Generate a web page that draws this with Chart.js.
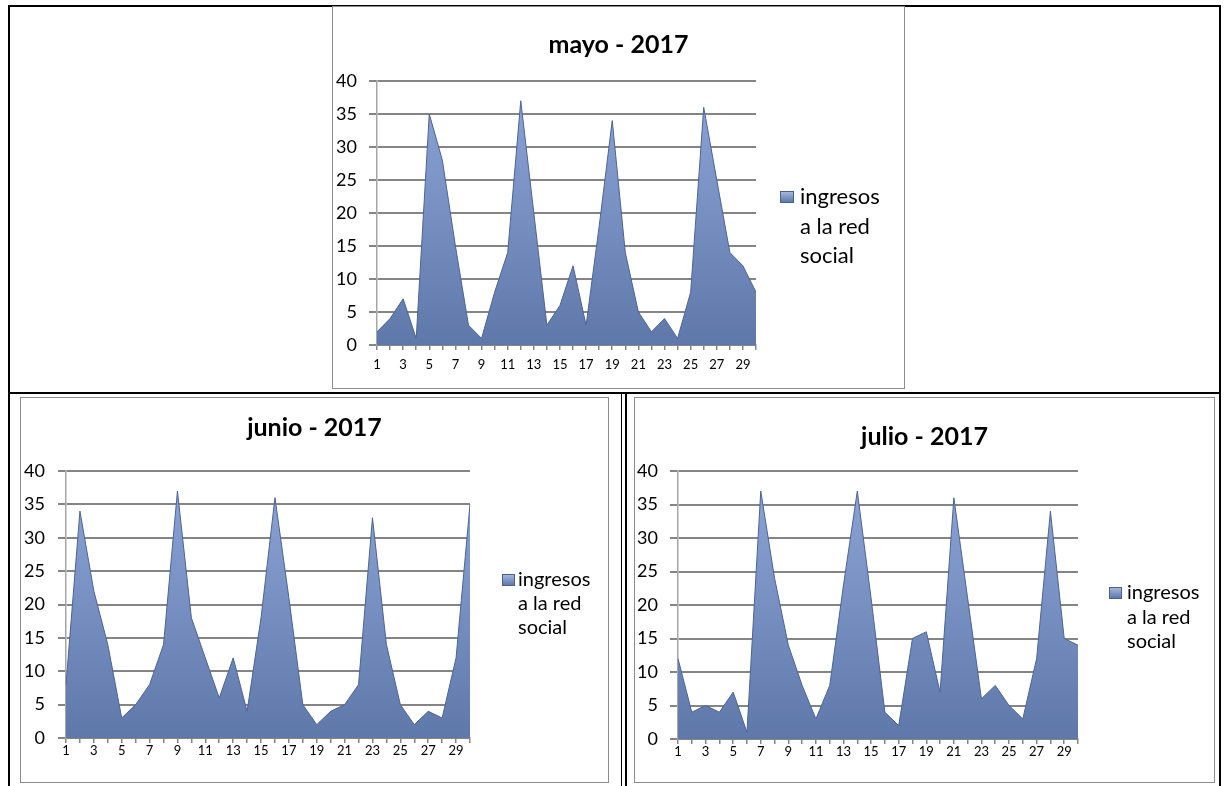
<!DOCTYPE html>
<html>
<head>
<meta charset="utf-8">
<script src="https://cdn.jsdelivr.net/npm/chart.js@4.4.1/dist/chart.umd.min.js"></script>
<style>
  body { margin: 0; background: #fff; width: 1225px; height: 786px; position: relative; overflow: hidden; font-family: Lato, sans-serif; }
  .rule { position: absolute; background: #000; }
  .frame { position: absolute; border: 1px solid #8c8c8c; background: #fff; }
  .frame canvas { display: block; }
</style>
</head>
<body>
<!-- table lines -->
<div class="rule" style="left:8px;top:5px;width:1213px;height:2px"></div>
<div class="rule" style="left:8px;top:5px;width:2px;height:781px"></div>
<div class="rule" style="left:1219px;top:5px;width:2px;height:781px"></div>
<div class="rule" style="left:8px;top:392px;width:1213px;height:2px"></div>
<div class="rule" style="left:621px;top:392px;width:1px;height:394px"></div>
<div class="rule" style="left:625px;top:392px;width:2px;height:394px"></div>

<div class="frame" style="left:332px;top:6px;width:571px;height:381px"><canvas id="mayo" width="571" height="381"></canvas></div>
<div class="frame" style="left:20px;top:397px;width:587px;height:384px"><canvas id="junio" width="587" height="384"></canvas></div>
<div class="frame" style="left:634px;top:397px;width:579px;height:384px"><canvas id="julio" width="579" height="384"></canvas></div>

<script>
const days = ["1", "2", "3", "4", "5", "6", "7", "8", "9", "10", "11", "12", "13", "14", "15",
  "16", "17", "18", "19", "20", "21", "22", "23", "24", "25", "26", "27", "28", "29", "30"];
const shownDays = ["1", "3", "5", "7", "9", "11", "13", "15", "17", "19", "21", "23", "25", "27", "29"];
const yTicks = [0, 5, 10, 15, 20, 25, 30, 35, 40];

const mayoValues = [2, 4, 7, 1, 35, 28, 15, 3, 1, 8, 14, 37, 20, 3, 6, 12, 3, 18, 34, 14, 5, 2, 4, 1, 8, 36, 25, 14, 12, 8];
const junioValues = [8, 34, 22, 14, 3, 5, 8, 14, 37, 18, 12, 6, 12, 4, 18, 36, 21, 5, 2, 4, 5, 8, 33, 14, 5, 2, 4, 3, 12, 35];
const julioValues = [12, 4, 5, 4, 7, 1, 37, 24, 14, 8, 3, 8, 23, 37, 21, 4, 2, 15, 16, 7, 36, 21, 6, 8, 5, 3, 12, 34, 15, 14];

const seriesName = "ingresos a la red social";
const legendLines = ["ingresos", "a la red", "social"];

const gridGray = "#858585";

function areaFill(context) {
  const chart = context.chart;
  const area = chart.chartArea;
  if (!area) return "#7890c0";
  const g = chart.ctx.createLinearGradient(0, area.top, 0, area.bottom);
  g.addColorStop(0, "#8ea6d6");
  g.addColorStop(0.5, "#778fc1");
  g.addColorStop(1, "#5f78aa");
  return g;
}

// legend drawn beside the plot, three lines like the original
const sideLegend = {
  id: "sideLegend",
  afterDraw(chart, args, opts) {
    const ctx = chart.ctx;
    ctx.save();
    const by = opts.lineY[0] - opts.boxH / 2;
    const g = ctx.createLinearGradient(opts.boxX, by, opts.boxX, by + opts.boxH);
    g.addColorStop(0, "#a9bde3");
    g.addColorStop(1, "#5873a6");
    ctx.fillStyle = g;
    ctx.fillRect(opts.boxX, by, opts.boxW, opts.boxH);
    ctx.strokeStyle = "#4a6190";
    ctx.lineWidth = 1;
    ctx.strokeRect(opts.boxX + 0.5, by + 0.5, opts.boxW - 1, opts.boxH - 1);
    ctx.fillStyle = "#000";
    ctx.font = opts.size + "px Lato";
    ctx.textBaseline = "middle";
    ctx.textAlign = "left";
    legendLines.forEach((t, i) => ctx.fillText(t, opts.textX, opts.lineY[i]));
    ctx.restore();
  }
};

function drawMonth(id, title, values, L) {
  const canvas = document.getElementById(id);
  new Chart(canvas.getContext("2d"), {
    type: "line",
    data: {
      labels: days,
      datasets: [{
        label: seriesName,
        data: values,
        fill: "origin",
        backgroundColor: areaFill,
        borderColor: "#4d6494",
        borderWidth: 1,
        pointRadius: 0,
        tension: 0
      }]
    },
    options: {
      responsive: false,
      animation: false,
      layout: { padding: 0 },
      plugins: {
        legend: { display: false },
        tooltip: { enabled: false },
        title: {
          display: true,
          text: title,
          color: "#000",
          font: { family: "Lato", size: 25, weight: "bold", lineHeight: 1 },
          padding: { top: L.titleTop, bottom: L.titleBottom }
        },
        sideLegend: L.legend
      },
      scales: {
        x: {
          ticks: {
            autoSkip: false,
            maxRotation: 0,
            padding: L.xPad,
            color: "#000",
            font: { family: "Lato", size: 13 },
            callback(v) {
              const lab = this.getLabelForValue(v);
              return shownDays.includes(lab) ? lab : "";
            }
          },
          grid: { drawOnChartArea: false, drawTicks: true, tickLength: 5, color: gridGray, lineWidth: 1.5 },
          border: { color: gridGray, width: 2 },
          afterFit(s) { s.height = canvas.height - L.plotBottom; }
        },
        y: {
          min: yTicks[0],
          max: yTicks[yTicks.length - 1],
          ticks: {
            stepSize: yTicks[1] - yTicks[0],
            padding: L.yPad,
            color: "#000",
            font: { family: "Lato", size: 18 }
          },
          grid: { color: gridGray, lineWidth: 2, tickLength: 8 },
          border: { color: "#a6a6a6", width: 1.5 },
          afterFit(s) { s.width = L.plotLeft; }
        },
        // empty right-hand space where the legend sits
        side: {
          type: "linear",
          position: "right",
          ticks: { display: false },
          grid: { display: false },
          border: { display: false },
          afterFit(s) { s.width = canvas.width - L.plotRight; }
        }
      }
    },
    plugins: [sideLegend]
  });
}

drawMonth("mayo", "mayo - 2017", mayoValues, {
  plotLeft: 44, plotRight: 423, plotBottom: 338,
  titleTop: 25.5, titleBottom: 23.5, xPad: 7.5, yPad: 12,
  legend: { boxX: 447, boxW: 14, boxH: 12, textX: 467, lineY: [190, 220, 249], size: 22 }
});
drawMonth("junio", "junio - 2017", junioValues, {
  plotLeft: 45, plotRight: 449, plotBottom: 340,
  titleTop: 17.5, titleBottom: 30.5, xPad: 0, yPad: 13,
  legend: { boxX: 481, boxW: 13, boxH: 12, textX: 497, lineY: [182, 206, 230], size: 20 }
});
drawMonth("julio", "julio - 2017", julioValues, {
  plotLeft: 43, plotRight: 443, plotBottom: 341,
  titleTop: 26.5, titleBottom: 21.5, xPad: 0, yPad: 12,
  legend: { boxX: 474, boxW: 13, boxH: 12, textX: 492, lineY: [195, 220, 244], size: 20 }
});
</script>
</body>
</html>
